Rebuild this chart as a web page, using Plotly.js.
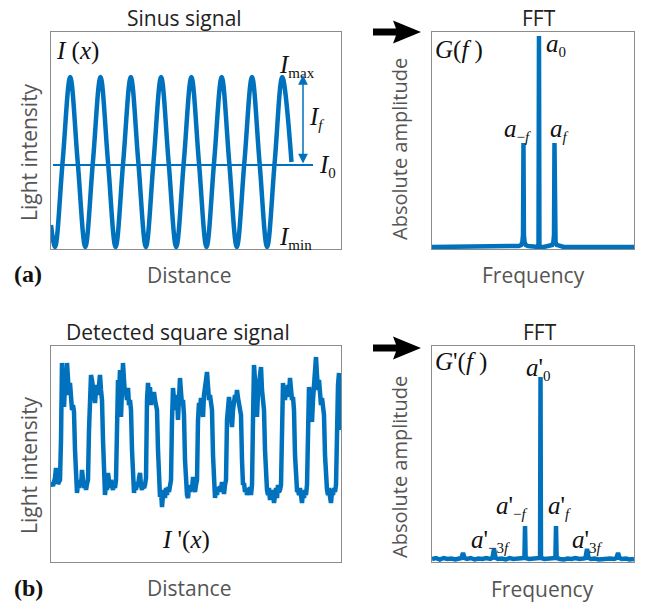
<!DOCTYPE html>
<html><head><meta charset="utf-8">
<script src="https://cdn.plot.ly/plotly-3.0.1.min.js"></script>
<style>html,body{margin:0;padding:0;background:#fff;} #chart{width:647px;height:606px;}</style>
</head><body><div id="chart"></div>
<script>
// ---------- DATA (arbitrary units) ----------
// (a) sinus signal: key points (troughs, mid crossings, peaks)
const sineDistance = [0, 4, 11.6, 19.2, 26.7, 34.3, 41.9, 49.5, 57.0, 64.6, 72.2, 79.8, 87.3, 94.9, 102.5, 110.1, 117.6, 125.2, 132.8, 140.4, 147.9, 155.5, 163.1, 170.7, 178.2, 185.8, 193.4, 201.0, 208.5, 216.1, 223.7, 231.3, 240.5];
const sineIntensity = [24, 2,87,172,87, 2,87,172,87, 2,87,172,87, 2,87,172,87, 2,87,172,87, 2,87,172,87, 2,87,172,87, 2,87,172,87];
const meanDistance = [2, 262];
const meanIntensity = [84, 84];
const ifArrow = {distance: 252, top: 174, bottom: 84};

// (a) FFT of sinus signal
const fftFreqA = [-6.9, -3, -1.6, -1.3, -1.15, -1.07, -1.03, -1.0, -0.97, -0.93, -0.85, -0.7, -0.3, -0.03, 0, 0.03, 0.3, 0.7, 0.85, 0.93, 0.97, 1.0, 1.03, 1.07, 1.15, 1.3, 1.6, 3, 6.13];
const fftAmpA  = [2, 2, 2, 3, 4, 7, 14, 106, 14, 7, 4, 3, 2, 2, 213, 2, 2, 3, 4, 7, 14, 106, 14, 7, 4, 3, 2, 2, 2];

// (b) detected square signal (one sample per distance unit)
const squareIntensity = [
 80,78,76,80,84,94,90,78,80,82,
 122,199,182,155,177,167,199,182,167,179,162,152,157,150,
 112,82,69,78,74,82,76,92,84,74,79,72,78,82,
 132,177,187,182,172,167,159,172,177,167,177,187,172,162,
 122,82,67,77,72,89,80,74,82,77,72,79,74,82,
 175,182,167,192,145,172,199,182,167,170,162,174,157,162,152,
 112,82,69,78,72,80,75,84,89,77,72,79,74,77,84,
 162,179,167,175,157,167,162,170,162,157,152,
 112,77,65,72,55,67,72,64,74,67,75,70,74,82,
 142,174,162,167,152,164,142,162,184,170,157,162,147,
 102,77,67,64,74,70,77,72,85,74,70,77,82,
 142,159,152,164,157,145,167,172,182,190,172,162,167,157,152,
 107,74,64,72,67,75,70,76,72,80,74,68,77,82,
 142,162,165,157,147,135,152,162,167,162,172,164,157,152,147,
 102,77,79,70,74,67,72,69,75,67,77,
 142,197,182,162,145,169,177,187,195,172,162,152,
 112,82,72,67,74,62,70,64,72,59,67,74,64,77,70,72,77,
 142,179,167,162,172,165,177,167,184,172,162,165,152,
 107,80,72,72,67,74,65,59,70,64,72,67,77,
 142,175,167,157,140,162,177,192,205,187,172,182,167,157,164,152,147,
 107,77,72,67,74,65,59,70,67,74,70,77,
 142,177,189,162,132];
const squareDistance = squareIntensity.map((_, i) => i);

// (b) FFT of square signal
const fftFreqB = [-7.0,-6.75,-6.5,-6.25,-6.0,-5.75,-5.5,-5.25,-5.1,-5.0,-4.9,-4.75,-4.5,-4.25,-4.0,-3.75,-3.5,-3.25,-3.1,-3.0,-2.9,-2.75,-2.5,-2.25,-2.0,-1.75,-1.5,-1.25,-1.04,-1.0,-0.96,-0.75,-0.5,-0.25,-0.03,0,0.03,0.25,0.5,0.75,0.96,1.0,1.04,1.25,1.5,1.75,2.0,2.25,2.5,2.75,2.9,3.0,3.1,3.25,3.5,3.75,4.0,4.25,4.5,4.75,4.9,5.0,5.1,5.25,5.5,5.75,6.03];
const fftAmpB  = [3,4,2.5,4,3,3.5,2.5,3.5,4,9,4,3,4,2.5,3.5,3,4,3,4,13,4,3,3.5,2.5,4,3,3.5,3,4,36,4,3,3.5,3,4,185,4,3,3.5,3,4,36,4,3,2.5,3.5,3,4,3,3.5,4,13,4,3,3.5,2.5,3,4,3.5,3,4,9,4,3,3.5,2.5,3];

// ---------- LAYOUT HELPERS ----------
const W = 647, H = 606;
const PX = x => x / W, PY = y => 1 - y / H;
const BLUE = '#0072BD';
const SANS = 'Open Sans, sans-serif';
const SERIF = 'Liberation Serif, serif';

function axis(range, dom, anchor) {
  return {domain: dom, range: range, anchor: anchor, showgrid: false, zeroline: false, showticklabels: false,
          ticks: '', showline: true, mirror: true, linecolor: '#8c8c8c', linewidth: 1, fixedrange: true};
}
const xL = [PX(51), PX(341)], xR = [PX(432), PX(634)];
const yA = [PY(249), PY(32)], yB = [PY(562), PY(346)];

const traces = [
  {x: sineDistance, y: sineIntensity, xaxis: 'x', yaxis: 'y', mode: 'lines',
   line: {color: BLUE, width: 4.5, shape: 'spline', smoothing: 1}},
  {x: meanDistance, y: meanIntensity, xaxis: 'x', yaxis: 'y', mode: 'lines',
   line: {color: BLUE, width: 2}},
  {x: fftFreqA, y: fftAmpA, xaxis: 'x2', yaxis: 'y2', mode: 'lines',
   line: {color: BLUE, width: 4.5}},
  {x: squareDistance, y: squareIntensity, xaxis: 'x3', yaxis: 'y3', mode: 'lines',
   line: {color: BLUE, width: 4.5}},
  {x: fftFreqB, y: fftAmpB, xaxis: 'x4', yaxis: 'y4', mode: 'lines',
   line: {color: BLUE, width: 4.5}}
];

function txt(text, x, y, o) {
  return Object.assign({text: text, x: PX(x), y: PY(y), xref: 'paper', yref: 'paper',
    showarrow: false, xanchor: 'center', yanchor: 'middle',
    font: {family: SANS, size: 20, color: '#333'}}, o || {});
}
const M = () => ({font: {family: SERIF, size: 25, color: '#111'}, xanchor: 'left'});
const sub = s => '<sub><span style="font-size:15px">' + s + '</span></sub>';

const annotations = [
  txt('Sinus signal', 184, 18, {font: {family: SANS, size: 21, color: '#222'}}),
  txt('FFT', 539, 18, {font: {family: SANS, size: 21, color: '#222'}}),
  txt('Detected square signal', 178, 332, {font: {family: SANS, size: 21, color: '#222'}}),
  txt('FFT', 540, 332, {font: {family: SANS, size: 21, color: '#222'}}),
  txt('Light intensity', 29, 152, {textangle: -90, font: {family: SANS, size: 21, color: '#555'}}),
  txt('Light intensity', 29, 465, {textangle: -90, font: {family: SANS, size: 21, color: '#555'}}),
  txt('Absolute amplitude', 399, 149, {textangle: -90, font: {family: SANS, size: 20, color: '#555'}}),
  txt('Absolute amplitude', 399, 467, {textangle: -90, font: {family: SANS, size: 20, color: '#555'}}),
  txt('Distance', 189, 275, {font: {family: SANS, size: 21, color: '#555'}}),
  txt('Distance', 189, 588, {font: {family: SANS, size: 21, color: '#555'}}),
  txt('Frequency', 533, 275, {font: {family: SANS, size: 21, color: '#555'}}),
  txt('Frequency', 542, 589, {font: {family: SANS, size: 21, color: '#555'}}),
  txt('<b>(a)</b>', 28, 274, {font: {family: SERIF, size: 24, color: '#111'}}),
  txt('<b>(b)</b>', 28, 588, {font: {family: SERIF, size: 24, color: '#111'}}),
  // math labels
  txt('<i>I</i> (<i>x</i>)', 54, 51, M()),
  txt('<i>I</i>' + sub('max'), 277, 66, M()),
  txt('<i>I</i>' + sub('<i>f</i>'), 307, 118, M()),
  txt('<i>I</i>' + sub('0'), 317, 166, M()),
  txt('<i>I</i>' + sub('min'), 277, 238, M()),
  txt('<i>G</i>(<i>f</i> )', 433, 50, M()),
  txt('<i>a</i>' + sub('0'), 544, 45, M()),
  txt('<i>a</i>' + sub('−<i>f</i>'), 502, 130, M()),
  txt('<i>a</i>' + sub('<i>f</i>'), 548, 130, M()),
  txt('<i>G</i>\'(<i>f</i> )', 433, 362, M()),
  txt('<i>a</i>\'' + sub('0'), 524, 369, M()),
  txt('<i>a</i>\'' + sub('−<i>f</i>'), 494, 507, M()),
  txt('<i>a</i>\'' + sub('<i>f</i>'), 546, 507, M()),
  txt('<i>a</i>\'' + sub('−3<i>f</i>'), 469, 541, M()),
  txt('<i>a</i>\'' + sub('3<i>f</i>'), 570, 541, M()),
  txt('<i>I</i> \'(<i>x</i>)', 160, 540, M()),
  // I_f double arrow
  {x: ifArrow.distance, y: ifArrow.top, ax: ifArrow.distance, ay: ifArrow.bottom,
   xref: 'x', yref: 'y', axref: 'x', ayref: 'y', text: '', showarrow: true,
   arrowhead: 2, arrowside: 'end+start', arrowsize: 1.3, arrowwidth: 1.5, arrowcolor: BLUE}
];

function arrowPath(cy) {
  const pts = [[373, cy-3.5], [396, cy-3.5], [393, cy-11.5], [421, cy], [393, cy+11.5], [396, cy+3.5], [373, cy+3.5]];
  return 'M' + pts.map(p => PX(p[0]).toFixed(5) + ',' + PY(p[1]).toFixed(5)).join(' L') + ' Z';
}
const shapes = [32, 348].map(cy => ({type: 'path', xref: 'paper', yref: 'paper',
  path: arrowPath(cy), fillcolor: '#000', line: {width: 0}}));

const layout = {
  width: W, height: H, margin: {l: 0, r: 0, t: 0, b: 0},
  paper_bgcolor: '#fff', plot_bgcolor: '#fff', showlegend: false,
  xaxis: axis([0, 290], xL, 'y'), yaxis: axis([0, 217], yA, 'x'),
  xaxis2: axis([-6.9, 6.13], xR, 'y2'), yaxis2: axis([0, 217], yA, 'x2'),
  xaxis3: axis([0, 290], xL, 'y3'), yaxis3: axis([0, 216], yB, 'x3'),
  xaxis4: axis([-7.0, 6.03], xR, 'y4'), yaxis4: axis([0, 216], yB, 'x4'),
  annotations: annotations, shapes: shapes
};
Plotly.newPlot('chart', traces, layout, {displayModeBar: false, staticPlot: true});
</script></body></html>
